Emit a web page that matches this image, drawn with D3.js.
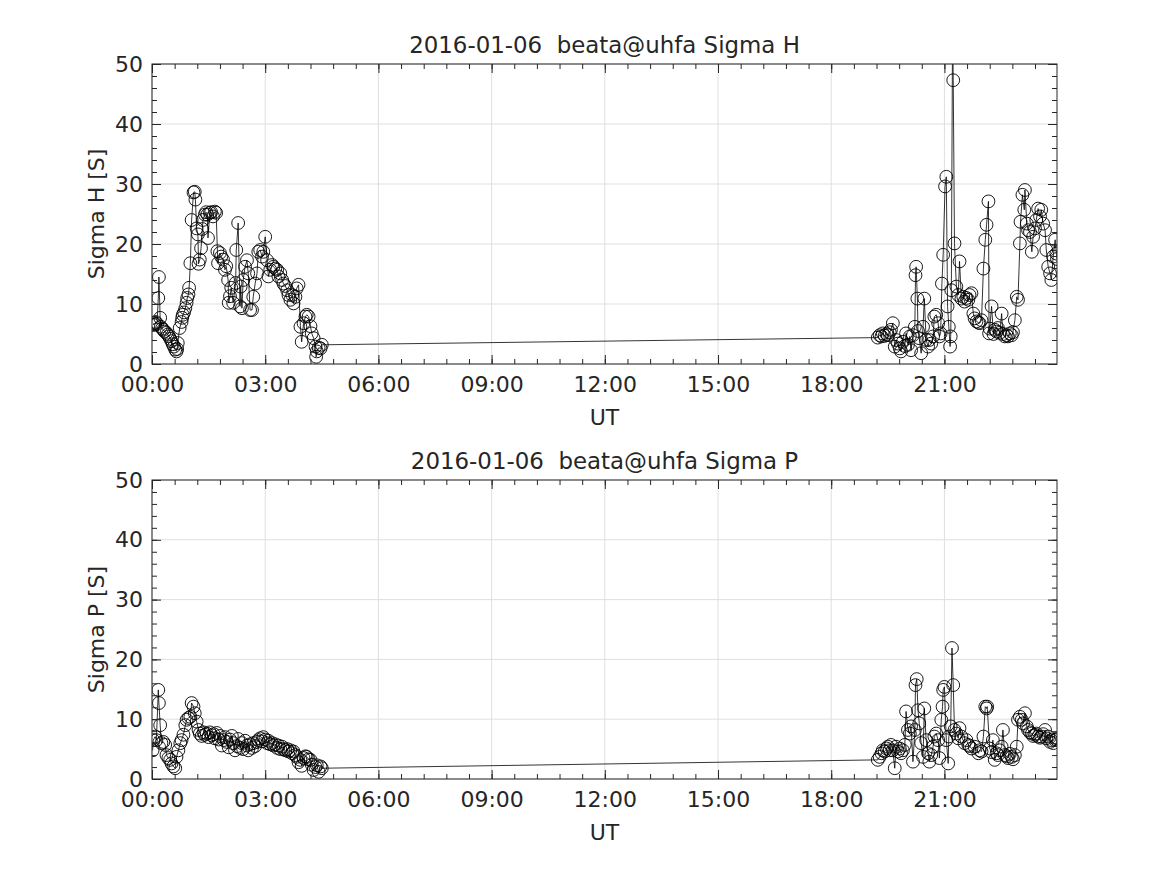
<!DOCTYPE html>
<html><head><meta charset="utf-8">
<script src="https://cdn.jsdelivr.net/npm/d3@7"></script>
<style>
body{margin:0;background:#fff}
svg text{font-family:"DejaVu Sans",sans-serif;fill:#262626;white-space:pre}
</style>
</head><body>
<svg id="chart" width="1167" height="875"></svg>
<script>
// time in minutes after 00:00 UT
const sigmaHTimes = [2,3,5,6,8,10,11,13,14,16,18,20,23,25,27,29,31,33,35,37,39,40,41,44,47,48,49,51,53,55,56,58,59,61,63,66,68,69,71,73,74,76,78,80,81,84,86,88,89,92,94,97,100,102,104,105,108,110,113,116,118,121,122,124,126,129,133,134,137,140,141,143,145,148,151,153,156,159,161,164,167,169,172,175,177,180,183,185,188,191,193,196,199,201,204,207,209,212,215,217,220,223,225,228,230,233,236,238,241,244,246,249,252,254,257,260,261,262,265,268,270,
1154,1157,1160,1162,1165,1168,1170,1173,1175,1178,1181,1183,1186,1189,1191,1194,1197,1199,1202,1205,1207,1210,1213,1214,1215,1217,1218,1220,1223,1226,1228,1231,1234,1236,1239,1242,1244,1247,1250,1252,1254,1256,1258,1261,1263,1265,1267,1269,1270,1271,1273,1274,1276,1279,1282,1284,1287,1290,1292,1295,1298,1300,1303,1306,1308,1311,1314,1316,1319,1322,1325,1327,1330,1331,1332,1335,1338,1340,1343,1345,1348,1351,1353,1356,1359,1361,1364,1367,1369,1372,1375,1377,1380,1381,1384,1387,1388,1391,1393,1396,1399,1401,1404,1406,1409,1412,1414,1417,1420,1422,1425,1428,1430,1433,1436,1438,1439];
const sigmaHValues = [6.5,6.8,6.6,7.0,6.7,11.0,14.5,7.7,6.2,5.9,5.7,5.4,5.2,4.9,4.6,4.2,3.8,3.3,2.9,2.4,2.1,2.5,3.5,6.0,7.0,7.7,8.2,8.6,9.3,10.2,11.0,11.6,12.7,16.8,24.0,28.6,28.7,27.4,22.6,21.6,16.7,17.4,19.3,22.5,24.0,24.9,25.3,24.9,21.0,25.2,25.3,24.6,25.4,25.2,18.8,16.8,18.5,17.9,17.4,15.7,16.3,14.0,10.2,11.3,12.7,10.2,13.5,19.0,23.5,9.6,12.9,9.3,14.0,16.2,17.3,15.1,9.0,9.0,11.2,13.4,15.1,18.7,19.0,17.9,18.7,21.2,17.3,14.6,15.7,16.5,16.2,15.9,15.7,14.6,15.1,14.0,13.4,13.0,12.3,11.5,10.7,11.5,10.1,11.2,12.6,13.2,6.2,3.7,6.8,7.9,8.2,7.9,6.3,5.1,4.3,2.9,1.2,2.1,2.7,2.6,3.2,
4.4,4.8,4.6,5.1,4.7,5.0,4.8,5.3,5.7,6.8,2.9,4.0,3.4,2.6,2.1,3.7,3.0,5.1,3.2,4.6,2.3,4.8,6.2,14.8,16.2,10.9,5.5,4.3,1.8,6.2,10.9,4.0,2.9,4.0,3.4,4.6,7.9,8.2,6.8,4.6,5.1,13.4,18.2,29.6,31.2,9.6,6.2,2.9,4.6,12.3,58,47.3,20.1,12.9,11.5,17.1,10.9,11.2,10.4,11.0,10.7,11.5,11.8,8.4,7.6,7.1,6.9,6.8,7.3,15.9,20.7,23.2,27.1,5.1,5.9,9.6,5.0,5.7,5.4,6.0,5.2,8.4,5.0,4.6,4.8,4.6,5.1,4.8,5.3,7.3,11.2,10.7,20.1,23.7,28.2,25.7,29.0,23.4,22.3,22.0,18.7,21.2,22.6,24.0,25.9,24.6,25.7,23.4,22.3,19.0,16.2,15.1,14.0,17.9,20.7,18.4,17.5];

const sigmaPTimes = [1,2,5,7,10,11,13,15,18,21,23,26,29,31,34,37,39,42,45,47,50,53,55,58,61,63,66,68,71,74,76,79,82,84,87,90,92,95,98,100,103,106,108,111,114,116,119,122,124,127,129,132,135,137,140,143,145,148,151,153,156,159,161,164,167,169,172,175,177,180,183,185,188,191,193,196,199,201,204,207,209,212,215,217,220,223,225,228,230,233,236,238,241,244,246,249,252,254,257,260,262,265,268,270,
1154,1157,1160,1162,1165,1168,1170,1173,1175,1178,1181,1183,1186,1189,1191,1194,1197,1199,1202,1205,1207,1210,1213,1214,1216,1218,1220,1223,1226,1228,1231,1234,1236,1239,1242,1244,1247,1250,1252,1255,1257,1258,1260,1263,1266,1267,1270,1272,1274,1276,1279,1282,1284,1287,1292,1295,1298,1300,1303,1308,1314,1316,1319,1322,1325,1327,1328,1332,1335,1337,1340,1343,1345,1348,1351,1353,1356,1359,1361,1364,1367,1369,1372,1375,1377,1380,1383,1385,1388,1391,1393,1396,1399,1401,1404,1406,1409,1412,1414,1417,1420,1422,1425,1428,1430,1433,1436,1438,1439];
const sigmaPValues = [4.8,6.5,7.1,6.5,14.9,12.7,9.0,6.0,6.2,5.7,4.0,3.5,3.2,2.6,2.1,1.8,3.7,4.8,6.0,6.5,7.4,9.0,9.9,10.2,10.4,12.7,12.1,11.0,9.6,8.2,7.6,7.2,7.8,7.4,7.6,7.0,7.8,7.3,7.5,6.8,7.7,6.6,7.2,5.6,6.5,7.0,6.2,5.3,6.6,7.2,6.0,4.8,5.5,6.7,5.2,6.0,5.0,6.4,5.6,4.8,5.8,5.2,6.0,5.5,6.2,6.5,6.8,6.3,7.0,6.6,6.0,6.4,5.8,6.0,5.6,5.8,5.2,5.6,5.0,5.4,5.0,4.8,5.0,4.6,4.8,4.3,4.6,4.0,3.7,2.8,3.2,2.2,3.5,3.8,3.7,3.3,3.2,2.4,1.5,2.0,2.3,1.2,2.1,1.8,
3.2,3.7,4.3,4.8,4.6,5.1,5.4,4.8,5.7,4.8,1.8,5.4,4.6,5.1,4.3,4.8,5.7,11.3,8.2,7.6,8.8,2.9,8.2,15.7,16.7,11.5,9.3,6.0,3.7,11.8,6.5,4.3,2.9,4.0,5.4,7.1,7.6,6.5,3.5,9.9,12.1,14.9,15.4,6.5,2.6,7.1,8.8,21.9,15.7,8.2,7.6,6.8,8.5,7.1,6.0,6.5,5.7,5.5,5.1,5.4,4.3,4.8,4.6,7.1,12.1,11.8,12.1,5.1,4.5,6.5,3.2,4.3,4.0,4.8,5.4,8.2,4.0,3.8,3.5,4.2,3.7,3.3,4.0,5.4,9.9,10.4,9.9,9.3,11.0,8.8,8.2,7.8,7.6,7.2,7.4,7.6,7.1,6.9,7.1,7.5,8.2,6.8,7.1,6.2,6.5,6.0,6.5,6.6,6.8];

const xMajorTicks = [0,180,360,540,720,900,1080,1260];
const xTickLabels = ["00:00","03:00","06:00","09:00","12:00","15:00","18:00","21:00"];
const yMajorTicks = [0,10,20,30,40,50];
const xMinorTicks = d3.range(0,1440,36);
const yMinorTicks = d3.range(0,51,2);

const svg = d3.select("#chart");
const X0 = 152, X1 = 1057;
const FS = 22;

function panel(id, top, bottom, times, values, title, ylabel) {
  const x = d3.scaleLinear().domain([0,1439]).range([X0,X1]);
  const y = d3.scaleLinear().domain([0,50]).range([bottom,top]);
  const g = svg.append("g");
  g.append("defs").append("clipPath").attr("id","clip"+id)
    .append("rect").attr("x",X0).attr("y",top).attr("width",X1-X0).attr("height",bottom-top);
  // grid
  g.append("g").selectAll("line").data(xMajorTicks).join("line")
    .attr("x1",d=>x(d)).attr("x2",d=>x(d)).attr("y1",top).attr("y2",bottom)
    .attr("stroke","#dfdfdf").attr("stroke-width",1);
  g.append("g").selectAll("line").data(yMajorTicks).join("line")
    .attr("y1",d=>y(d)).attr("y2",d=>y(d)).attr("x1",X0).attr("x2",X1)
    .attr("stroke","#dfdfdf").attr("stroke-width",1);
  // data
  const pts = times.map((t,i)=>({t:t,v:values[i]}));
  const dg = g.append("g").attr("clip-path","url(#clip"+id+")");
  dg.append("path").datum(pts)
    .attr("d", d3.line().x(d=>x(d.t)).y(d=>y(d.v)))
    .attr("fill","none").attr("stroke","#000").attr("stroke-width",0.8);
  dg.selectAll("circle").data(pts).join("circle")
    .attr("cx",d=>x(d.t)).attr("cy",d=>y(d.v)).attr("r",6.4)
    .attr("fill","none").attr("stroke","#000").attr("stroke-width",0.9);
  // axes
  const style = a => { a.select(".domain").remove(); a.selectAll("line").attr("stroke","#262626"); a.selectAll("text").attr("font-size",FS).attr("fill","#262626"); };
  g.append("g").attr("transform",`translate(0,${bottom})`)
    .call(d3.axisBottom(x).tickValues(xMinorTicks).tickSize(-5).tickFormat("")).call(style);
  g.append("g").attr("transform",`translate(0,${top})`)
    .call(d3.axisTop(x).tickValues(xMinorTicks).tickSize(-5).tickFormat("")).call(style);
  g.append("g").attr("transform",`translate(0,${bottom})`)
    .call(d3.axisBottom(x).tickValues(xMajorTicks).tickSize(-9).tickPadding(12)
      .tickFormat((d,i)=>xTickLabels[i])).call(style);
  g.append("g").attr("transform",`translate(0,${top})`)
    .call(d3.axisTop(x).tickValues(xMajorTicks).tickSize(-9).tickFormat("")).call(style);
  g.append("g").attr("transform",`translate(${X0},0)`)
    .call(d3.axisLeft(y).tickValues(yMinorTicks).tickSize(-5).tickFormat("")).call(style);
  g.append("g").attr("transform",`translate(${X1},0)`)
    .call(d3.axisRight(y).tickValues(yMinorTicks).tickSize(-5).tickFormat("")).call(style);
  g.append("g").attr("transform",`translate(${X0},0)`)
    .call(d3.axisLeft(y).tickValues(yMajorTicks).tickSize(-9).tickPadding(9)).call(style);
  g.append("g").attr("transform",`translate(${X1},0)`)
    .call(d3.axisRight(y).tickValues(yMajorTicks).tickSize(-9).tickFormat("")).call(style);
  g.append("rect").attr("x",X0).attr("y",top).attr("width",X1-X0).attr("height",bottom-top)
    .attr("fill","none").attr("stroke","#262626").attr("stroke-width",1);
  // labels
  g.append("text").attr("x",(X0+X1)/2).attr("y",top-11).attr("text-anchor","middle")
    .attr("font-size",22.9).attr("xml:space","preserve").text(title);
  g.append("text").attr("x",(X0+X1)/2).attr("y",bottom+61).attr("text-anchor","middle")
    .attr("font-size",FS).text("UT");
  g.append("text").attr("transform",`translate(104,${(top+bottom)/2}) rotate(-90)`)
    .attr("text-anchor","middle").attr("font-size",FS).text(ylabel);
}

panel("H", 64, 364, sigmaHTimes, sigmaHValues, "2016-01-06  beata@uhfa Sigma H", "Sigma H [S]");
panel("P", 480, 779, sigmaPTimes, sigmaPValues, "2016-01-06  beata@uhfa Sigma P", "Sigma P [S]");
</script>
</body></html>
